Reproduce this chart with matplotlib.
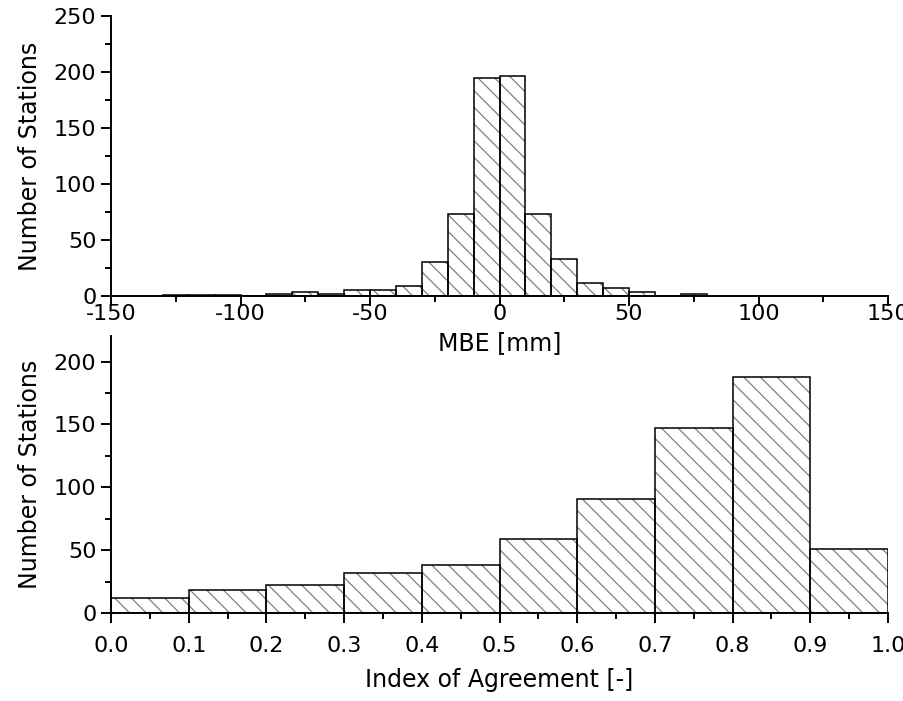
import numpy as np
import matplotlib
matplotlib.use("Agg")
import matplotlib.pyplot as plt

plt.rcParams['font.family'] = ['DejaVu Sans']
plt.rcParams['font.size'] = 17
plt.rcParams['xtick.labelsize'] = 16
plt.rcParams['ytick.labelsize'] = 16
plt.rcParams['axes.unicode_minus'] = False
plt.rcParams['hatch.linewidth'] = 0.9

# MBE histogram (bin left edges, width 10 mm)
mbe_left = [-130, -120, -110, -100, -90, -80, -70, -60, -50, -40, -30,
            -20, -10, 0, 10, 20, 30, 40, 50, 60, 70]
mbe_count = [1, 1, 1, 0, 2, 4, 2, 5, 5, 9, 30,
             73, 195, 196, 73, 33, 12, 7, 4, 0, 2]

# Index of agreement histogram (bin left edges, width 0.1)
ia_left = [0.0, 0.1, 0.2, 0.3, 0.4, 0.5, 0.6, 0.7, 0.8, 0.9]
ia_count = [12, 18, 22, 32, 38, 59, 91, 147, 188, 51]

fig = plt.figure(figsize=(9.04, 7.01), dpi=100)
ax1 = fig.add_axes([0.1228, 0.5777, 0.8595, 0.3995])
ax2 = fig.add_axes([0.1228, 0.1255, 0.8595, 0.3945])
ax2.patch.set_visible(False)


def hatched_bars(ax, left, height, width):
    ax.bar(left, height, width=width, align='edge', color='white',
           edgecolor='0.5', hatch='\\\\', linewidth=0)
    ax.bar(left, height, width=width, align='edge', fill=False,
           edgecolor='black', linewidth=1.1)


def style(ax, xpad):
    for s in ['top', 'right']:
        ax.spines[s].set_visible(False)
    for s in ['left', 'bottom']:
        ax.spines[s].set_linewidth(1.4)
    ax.tick_params(which='major', direction='out', length=7.5, width=1.4)
    ax.tick_params(which='minor', direction='out', length=4, width=1.4)
    ax.tick_params(axis='x', which='major', pad=xpad)
    ax.tick_params(axis='y', which='major', pad=3)


hatched_bars(ax1, mbe_left, mbe_count, 10)
ax1.set_xlim(-150, 150)
ax1.set_ylim(0, 250)
ax1.set_xticks(np.arange(-150, 151, 50))
ax1.set_xticks(np.arange(-125, 150, 50), minor=True)
ax1.set_yticks(np.arange(0, 251, 50))
ax1.set_yticks(np.arange(25, 250, 50), minor=True)
ax1.set_xlabel('MBE [mm]')
ax1.set_ylabel('Number of Stations')
ax1.xaxis.set_label_coords(0.5, -0.125)
ax1.yaxis.set_label_coords(-0.089, 0.5)
style(ax1, -2)

hatched_bars(ax2, ia_left, ia_count, 0.1)
ax2.set_xlim(0, 1.0)
ax2.set_ylim(0, 220)
ax2.set_xticks(np.arange(0, 1.01, 0.1))
ax2.set_xticklabels(['%.1f' % v for v in np.arange(0, 1.01, 0.1)])
ax2.set_xticks(np.arange(0.05, 1.0, 0.1), minor=True)
ax2.set_yticks(np.arange(0, 201, 50))
ax2.set_yticks(np.arange(25, 220, 50), minor=True)
ax2.set_xlabel('Index of Agreement [-]')
ax2.set_ylabel('Number of Stations')
ax2.xaxis.set_label_coords(0.5, -0.199)
ax2.yaxis.set_label_coords(-0.089, 0.5)
style(ax2, 9)

fig.savefig('out.png', dpi=100)
